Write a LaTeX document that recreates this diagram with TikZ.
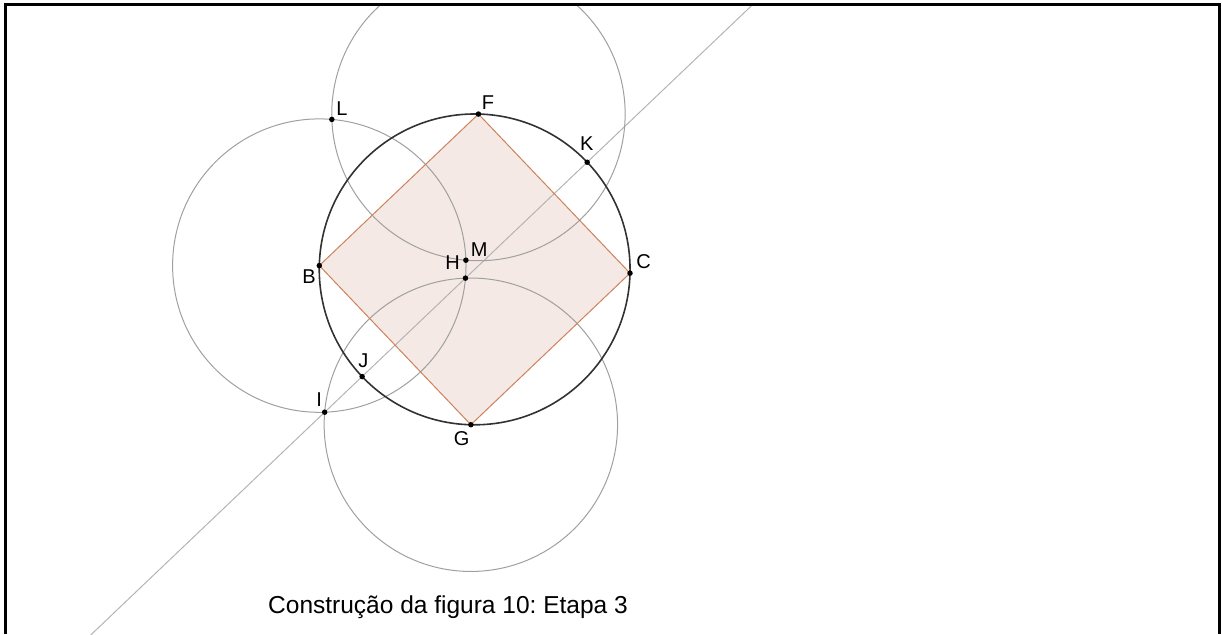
\documentclass[tikz,border=0pt]{standalone}
\usepackage{fontspec}
\setmainfont{Liberation Sans}
\usetikzlibrary{calc}
\frenchspacing
\definecolor{polyedge}{RGB}{206,130,92}
\definecolor{polyfill}{RGB}{244,233,229}
\definecolor{maincirc}{RGB}{50,50,50}
\definecolor{auxcirc}{RGB}{160,160,160}
\definecolor{auxline}{RGB}{180,180,180}
\begin{document}
\begin{tikzpicture}[x=1pt,y=1pt,
  dot/.style={circle,fill=black,inner sep=0pt,minimum size=5.5pt},
  lbl/.style={inner sep=0pt,font=\fontsize{20}{20}\selectfont},
  auxc/.style={draw=auxcirc,line width=1pt},
  mainc/.style={draw=maincirc,line width=1.6pt},
  edge/.style={draw=polyedge,line width=1pt,line join=round},
  frame/.style={draw=black,line width=3pt}]
\useasboundingbox (0,0) rectangle (1222,634);
\coordinate (O) at (474.65,364.6);
\coordinate (F) at ($(O)+(88.6:155.4)$);
\coordinate (C) at ($(O)+(-1.4:155.4)$);
\coordinate (G) at ($(O)+(268.6:155.4)$);
\coordinate (B) at ($(O)+(178.6:155.4)$);
\coordinate (L) at ($(O)+(133.6:207.1)$);
\coordinate (M) at ($(O)+(133.6:12.7)$);
\coordinate (I) at ($(O)+(223.6:207.1)$);
\coordinate (H) at ($(O)+(223.6:12.7)$);
\coordinate (J) at ($(O)+(223.6:155.4)$);
\coordinate (K) at ($(O)+(43.6:155.4)$);
\coordinate (P1) at ($(O)+(43.6:700)$);
\coordinate (P2) at ($(O)+(223.6:700)$);
\begin{scope}
  \clip (6.5,0) rectangle (1217.8,627.8);
  \fill[polyfill] (F) -- (C) -- (G) -- (B) -- cycle;
  \draw[draw=auxline,line width=1pt] (P2) -- (P1);
  \draw[auxc] (F) circle[radius=146.7pt];
  \draw[auxc] (B) circle[radius=146.7pt];
  \draw[auxc] (G) circle[radius=146.7pt];
  \draw[mainc] (O) circle[radius=155.4pt];
  \draw[edge] (F) -- (C) -- (G) -- (B) -- cycle;
\end{scope}
\draw[frame] (5,0) -- (5,629.3) -- (1219.3,629.3) -- (1219.3,0);
\foreach \p in {F,C,G,B,L,M,I,H,J,K} \node[dot] (n\p) at (\p) {};
\node[lbl] (tF) at ($(F)+(9.5,11.8)$) {F};
\node[lbl] (tK) at ($(K)+(-0.5,18.6)$) {K};
\node[lbl] (tL) at ($(L)+(10,11)$) {L};
\node[lbl] (tB) at ($(B)+(-10.3,-11)$) {B};
\node[lbl] (tI) at ($(I)+(-5.5,12.3)$) {I};
\node[lbl] (tJ) at ($(J)+(1.3,15.5)$) {J};
\node[lbl] (tG) at ($(G)+(-9.3,-13.6)$) {G};
\node[lbl] (tC) at ($(C)+(13.5,11.8)$) {C};
\node[lbl] (tM) at ($(M)+(13.3,10.7)$) {M};
\node[lbl] (tH) at ($(H)+(-12.8,15.5)$) {H};
\node[inner sep=0pt,font=\fontsize{24.5}{24.5}\selectfont] (cap) at (448,27) {Construção da figura 10: Etapa 3};
\end{tikzpicture}
\end{document}
